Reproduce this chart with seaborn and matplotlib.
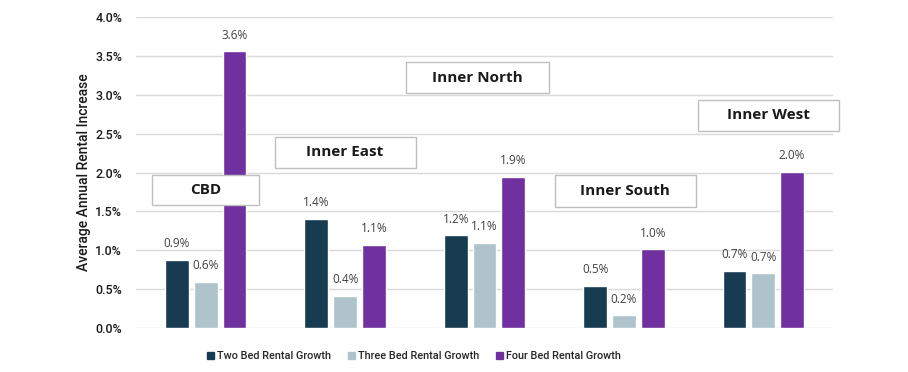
import matplotlib
matplotlib.use("Agg")
import matplotlib.pyplot as plt
import seaborn as sns
import pandas as pd
from matplotlib.patches import Rectangle
from matplotlib.ticker import FuncFormatter

regions = ["CBD", "Inner East", "Inner North", "Inner South", "Inner West"]
two_bed = [0.87, 1.40, 1.19, 0.54, 0.73]
three_bed = [0.59, 0.41, 1.09, 0.16, 0.70]
four_bed = [3.56, 1.07, 1.94, 1.01, 2.01]
series = ["Two Bed Rental Growth", "Three Bed Rental Growth", "Four Bed Rental Growth"]
colors = ["#173B51", "#AEC3CB", "#7030A0"]

# annotation boxes: (text, x-center in category units, y-center in %, width cat units, height %)
boxes = [
    ("CBD", 0.0, 1.77, 0.77, 0.39),
    ("Inner East", 1.0, 2.26, 1.01, 0.40),
    ("Inner North", 1.95, 3.22, 1.02, 0.40),
    ("Inner South", 3.01, 1.76, 1.01, 0.41),
    ("Inner West", 4.04, 2.74, 1.01, 0.40),
]

df = pd.DataFrame({
    "Region": regions * 3,
    "Series": [s for s in series for _ in regions],
    "Value": two_bed + three_bed + four_bed,
})

sns.set_theme(style="white")
plt.rcParams["font.family"] = ["Open Sans", "DejaVu Sans"]

fig = plt.figure(figsize=(9.08, 3.72), dpi=100)
ax = fig.add_axes([0.1498, 0.119, 0.9174 - 0.1498, 0.9535 - 0.119])

sns.barplot(data=df, x="Region", y="Value", hue="Series", hue_order=series,
            palette=dict(zip(series, colors)), width=0.62, gap=0.17,
            legend=False, ax=ax, saturation=1, errorbar=None)

ax.set_ylim(0, 4.0)
ax.set_xlim(-0.5, 4.5)
ax.set_yticks([i * 0.5 for i in range(9)])
ax.yaxis.set_major_formatter(FuncFormatter(lambda v, p: f"{v:.1f}%"))
ax.grid(axis="y", color="#D9D9D9", linewidth=1)
ax.set_axisbelow(True)
for s in ax.spines.values():
    s.set_visible(False)
ax.set_xticks([])
ax.set_xlabel("")
ax.set_ylabel("Average Annual Rental Increase", fontsize=10, fontweight="medium",
              color="#1a1a1a", labelpad=3, family=["Roboto", "DejaVu Sans"])
ax.tick_params(axis="y", length=0, pad=10, labelsize=8.5, labelcolor="#1a1a1a")
for lab in ax.get_yticklabels():
    lab.set_fontweight("medium")
    lab.set_family(["Roboto", "DejaVu Sans"])
    lab.set_fontsize(9)

for cont in ax.containers:
    ax.bar_label(cont, labels=[f"{b.get_height():.1f}%" for b in cont],
                 padding=7, fontsize=8.5, color="#404040")

for text, xc, yc, w, h in boxes:
    ax.add_patch(Rectangle((xc - w / 2, yc - h / 2), w, h, facecolor="white",
                           edgecolor="#BFBFBF", linewidth=1, zorder=5, clip_on=False))
    ax.text(xc, yc, text, ha="center", va="center", fontsize=11,
            fontweight="bold", color="#1a1a1a", zorder=6)

handles = [Rectangle((0, 0), 1, 1, color=c) for c in colors]
fig.legend(handles, series, loc="center", bbox_to_anchor=(0.456, 0.043), ncol=3,
           frameon=False, handlelength=0.6, handleheight=0.6, handletextpad=0.3,
           columnspacing=1.6,
           prop={"size": 7.8, "weight": "medium", "family": ["Roboto", "DejaVu Sans"]})

fig.savefig("out.png", dpi=100)
